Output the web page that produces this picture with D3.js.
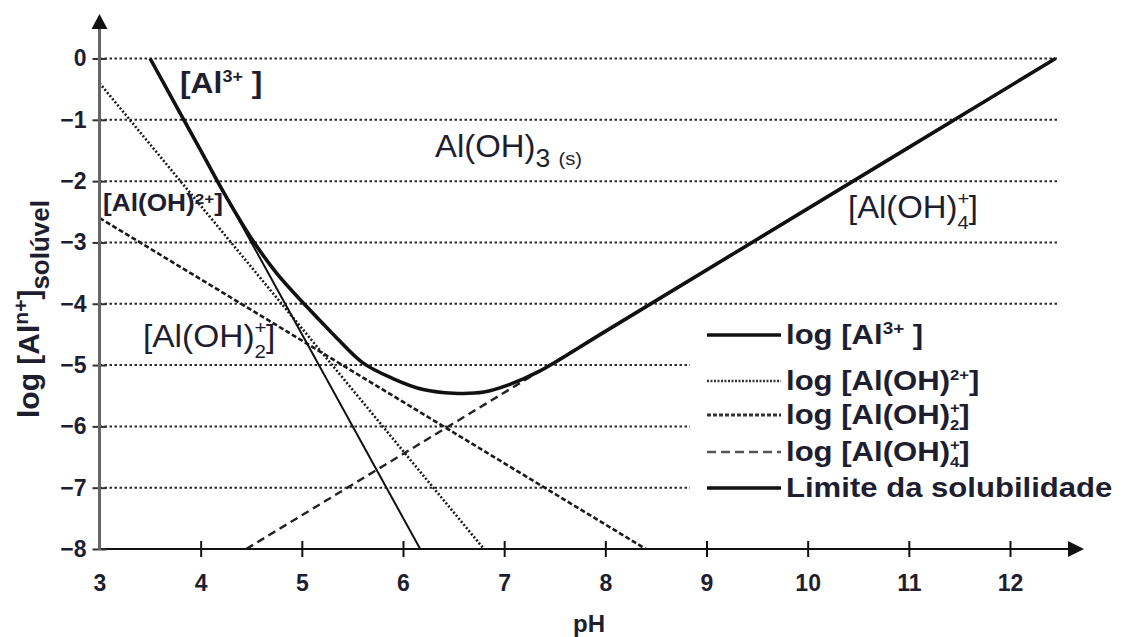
<!DOCTYPE html>
<html><head><meta charset="utf-8">
<script src="https://cdn.jsdelivr.net/npm/d3@7"></script>
<style>body{margin:0;background:#fff} svg{display:block}</style>
</head><body>
<svg id="c" width="1123" height="637"></svg>
<script>
// ---- data ----
const xTickLabels = [3, 4, 5, 6, 7, 8, 9, 10, 11, 12];
const xTickMarks = [4, 5, 6, 7, 8, 9, 10, 11, 12];
const yTickValues = [0, -1, -2, -3, -4, -5, -6, -7, -8];
const gridValues = [0, -1, -2, -3, -4, -5, -6, -7];

const al3PH = [3.5, 6.17];
const al3Log = [0, -8];
const alOH2PH = [3.0, 6.8];
const alOH2Log = [-0.4, -8];
const alOH2pPH = [3.0, 8.4];
const alOH2pLog = [-2.6, -8];
const alOH4PH = [4.45, 12.45];
const alOH4Log = [-8, 0];
const limitPH = [3.5, 4.0, 4.25, 4.5, 4.75, 5.05, 5.3, 5.6, 5.9, 6.2, 6.5, 6.8, 7.05, 7.35, 8.0, 9.45, 12.45];
const limitLog = [0, -1.5, -2.25, -2.93, -3.5, -4.05, -4.48, -4.96, -5.22, -5.4, -5.46, -5.44, -5.32, -5.1, -4.45, -3.0, 0];

const gridEndPH = 12.47;

// ---- setup ----
const svg = d3.select("#c");
const TXT = "#1e1e30";
const FONT = "'Liberation Sans', Arial, sans-serif";
const x = d3.scaleLinear().domain([3, 12]).range([99.5, 1010]);
const y = d3.scaleLinear().domain([-8, 0]).range([549, 58.5]);

const zip = (a, b) => a.map((v, i) => [v, b[i]]);
const line = d3.line().x(d => x(d[0])).y(d => y(d[1]));

// grid
svg.append("g").selectAll("line").data(gridValues).join("line")
  .attr("x1", x(3)).attr("x2", x(gridEndPH))
  .attr("y1", d => y(d)).attr("y2", d => y(d))
  .attr("stroke", "#2a2a2a").attr("stroke-width", 2).attr("stroke-dasharray", "2.5,2.5");

// data lines
const plot = svg.append("g").attr("fill", "none").attr("stroke", "#111");
plot.append("path").datum(zip(alOH4PH, alOH4Log)).attr("d", line)
  .attr("stroke-width", 2.4).attr("stroke-dasharray", "8,5").attr("stroke", "#222");
plot.append("path").datum(zip(alOH2pPH, alOH2pLog)).attr("d", line)
  .attr("stroke-width", 2.6).attr("stroke-dasharray", "5,2.5").attr("stroke", "#1a1a1a");
plot.append("path").datum(zip(alOH2PH, alOH2Log)).attr("d", line)
  .attr("stroke-width", 2.6).attr("stroke-dasharray", "2,2").attr("stroke", "#1a1a1a");
plot.append("path").datum(zip(al3PH, al3Log)).attr("d", line)
  .attr("stroke-width", 2);
plot.append("path").datum(zip(limitPH, limitLog))
  .attr("d", d3.line().x(d => x(d[0])).y(d => y(d[1])).curve(d3.curveCatmullRom.alpha(0.5)))
  .attr("stroke-width", 3.6);

// legend background (covers grid)
svg.append("rect").attr("x", 690).attr("y", 318).attr("width", 433).attr("height", 192).attr("fill", "#fff");

// axes
const xAxis = svg.append("g").attr("transform", `translate(0,${y(-8)})`)
  .call(d3.axisBottom(x).tickValues(xTickLabels).tickFormat(d => String(d)).tickSize(8).tickPadding(18));
xAxis.select(".domain").remove();
xAxis.selectAll(".tick line").attr("y1", -8).attr("y2", 8).attr("stroke", "#111").attr("stroke-width", 2)
  .attr("display", d => xTickMarks.includes(d) ? null : "none");
xAxis.selectAll(".tick text").attr("font-family", FONT).attr("font-weight", "bold")
  .attr("font-size", 23).attr("fill", TXT);
svg.append("line").attr("x1", x(3)).attr("x2", 1072).attr("y1", y(-8)).attr("y2", y(-8))
  .attr("stroke", "#111").attr("stroke-width", 2.2);
svg.append("path").attr("d", `M1084,${y(-8)} L1068,${y(-8) - 8} L1068,${y(-8) + 8} Z`).attr("fill", "#111");

const yAxis = svg.append("g").attr("transform", `translate(${x(3)},0)`)
  .call(d3.axisLeft(y).tickValues(yTickValues).tickFormat(d => d === 0 ? "0" : "\u2212" + (-d)).tickSize(7).tickPadding(6));
yAxis.select(".domain").remove();
yAxis.selectAll(".tick line").attr("x1", 7).attr("x2", -7).attr("stroke", "#333").attr("stroke-width", 2);
yAxis.selectAll(".tick text").attr("font-family", FONT).attr("font-weight", "bold")
  .attr("font-size", 23).attr("fill", TXT);
svg.append("line").attr("x1", x(3)).attr("x2", x(3)).attr("y1", y(-8) + 1).attr("y2", 26)
  .attr("stroke", "#666").attr("stroke-width", 3);
svg.append("path").attr("d", `M${x(3)},14 L${x(3) - 8},29 L${x(3) + 8},29 Z`).attr("fill", "#111");

// axis titles
svg.append("text").attr("x", 589).attr("y", 632).attr("text-anchor", "middle")
  .attr("font-family", FONT).attr("font-weight", "bold").attr("font-size", 24).attr("fill", TXT).text("pH");

const yt = svg.append("text").attr("transform", "translate(39,418) rotate(-90)")
  .attr("font-family", FONT).attr("font-weight", "bold").attr("font-size", 30).attr("fill", TXT);
yt.append("tspan").text("log [Al");
yt.append("tspan").attr("font-size", 21).attr("dy", -11).text("n+");
yt.append("tspan").attr("dy", 11).text("]");
yt.append("tspan").attr("font-size", 26).attr("dy", 10).text("solúvel");

// helper for stacked charge/sub
function stacked(t, sup, sub, F, s, up, down) {
  const p = t.append("tspan").attr("font-size", s).attr("dy", -up * F).text(sup);
  const w = p.node().getComputedTextLength();
  t.append("tspan").attr("font-size", s).attr("dx", -w).attr("dy", (up + down) * F).text(sub);
  return -down * F;
}

// in-plot labels (slightly wide lettering as in the picture)
function label(px, py, size, weight, sx) {
  return svg.append("text").attr("transform", `translate(${px},${py}) scale(${sx},1)`)
    .attr("font-family", FONT).attr("font-size", size).attr("font-weight", weight).attr("fill", TXT);
}
let t = label(180, 93, 30, "bold", 1.06);
t.append("tspan").text("[Al");
t.append("tspan").attr("font-size", 17).attr("dy", -11).text("3+");
t.append("tspan").attr("dy", 11).text(" ]");

t = label(435, 157, 31, "normal", 1.06);
t.append("tspan").text("Al(OH)");
t.append("tspan").attr("font-size", 25).attr("dy", 10).text("3");
t.append("tspan").attr("font-size", 19).attr("dy", -2).attr("dx", 8).text("(s)");

t = label(103, 211, 23, "bold", 1.14);
t.append("tspan").text("[Al(OH)");
t.append("tspan").attr("font-size", 15).attr("dy", -7).text("2+");
t.append("tspan").attr("dy", 7).text("]");

t = label(143, 347, 31, "normal", 1.08);
t.append("tspan").text("[Al(OH)");
let back = stacked(t, "+", "2", 31, 19, 0.42, 0.36);
t.append("tspan").attr("dy", back).text("]");

t = label(848, 218, 31, "normal", 1.06);
t.append("tspan").text("[Al(OH)");
back = stacked(t, "+", "4", 31, 19, 0.42, 0.36);
t.append("tspan").attr("dy", back).text("]");

// legend
const legendRows = [335, 381, 415, 452, 488];
const legendStyles = [
  { w: 3.6, dash: null, c: "#111" },
  { w: 2.6, dash: "2,1.5", c: "#333" },
  { w: 3, dash: "4,2", c: "#333" },
  { w: 2.6, dash: "9,5", c: "#555" },
  { w: 3.6, dash: null, c: "#111" }
];
legendRows.forEach((ly, i) => {
  const st = legendStyles[i];
  svg.append("line").attr("x1", 707).attr("x2", 781).attr("y1", ly).attr("y2", ly)
    .attr("stroke", st.c).attr("stroke-width", st.w).attr("stroke-dasharray", st.dash);
});
const LF = 28;
function ltext(i) {
  return svg.append("text").attr("transform", `translate(786,${legendRows[i] + 9}) scale(1.11,1)`)
    .attr("font-family", FONT).attr("font-weight", "bold").attr("font-size", LF).attr("fill", TXT);
}
t = ltext(0); t.append("tspan").text("log [Al");
t.append("tspan").attr("font-size", 17).attr("dy", -10).text("3+");
t.append("tspan").attr("dy", 10).text(" ]");
t = ltext(1); t.append("tspan").text("log [Al(OH)");
t.append("tspan").attr("font-size", 15).attr("dy", -10).text("2+");
t.append("tspan").attr("dy", 10).text("]");
t = ltext(2); t.append("tspan").text("log [Al(OH)");
back = stacked(t, "+", "2", LF, 15, 0.4, 0.22); t.append("tspan").attr("dy", back).text("]");
t = ltext(3); t.append("tspan").text("log [Al(OH)");
back = stacked(t, "+", "4", LF, 15, 0.4, 0.22); t.append("tspan").attr("dy", back).text("]");
t = ltext(4); t.text("Limite da solubilidade");
</script>
</body></html>
